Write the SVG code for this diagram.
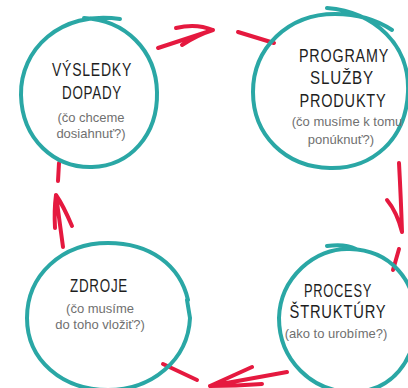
<svg xmlns="http://www.w3.org/2000/svg" width="408" height="388" viewBox="0 0 408 388">
<style>
.ring{fill:none;stroke:#2aa7a5;stroke-width:4;stroke-linecap:round}
.arr{fill:none;stroke:#e5193f;stroke-width:4;stroke-linecap:round;stroke-linejoin:round}
.t{font-family:"Liberation Sans",Arial,sans-serif;font-size:18px;fill:#1e1e1e;text-anchor:middle;letter-spacing:1px}
.s{font-family:"Liberation Sans",Arial,sans-serif;font-size:13px;fill:#707070;text-anchor:middle}
</style>
<rect width="408" height="388" fill="#fff"/>
<g id="connectors">
<path class="arr" d="M158,48 L213,30 M176,28 Q196,23 213,30 M182,45 Q197,35 213,30"/>
<path class="arr" d="M238,32 L274,43"/>
<path class="arr" d="M399,163 Q401,200 402,232 M387,200 Q397,212 402,232"/>
<path class="arr" d="M399,249 L393,270"/>
<path class="arr" d="M287,372 L210,386 M252,367 Q230,377 210,386 M262,384 Q236,386 210,386"/>
<path class="arr" d="M197,380 L163,364"/>
<path class="arr" d="M63,247 L56,195 M55,228 Q54,210 56,195 M72,226 Q63,205 56,195"/>
<path class="arr" d="M59,163 L58,181"/>
</g>
<g id="vysledky">
<path class="ring" d="M120,19 C60,10 20,50 21,95 C22,140 55,168 92,167 C130,166 158,135 157,92 C156,50 125,20 84,18"/>
<text class="t" x="92" y="76" textLength="80" lengthAdjust="spacingAndGlyphs">VÝSLEDKY</text>
<text class="t" x="92" y="99" textLength="60" lengthAdjust="spacingAndGlyphs">DOPADY</text>
<text class="s" x="91" y="122">(čo chceme</text>
<text class="s" x="91" y="138">dosiahnuť?)</text>
</g>
<g id="programy">
<path class="ring" d="M327,8 C375,12 410,45 408,92 C406,140 372,169 330,168 C285,167 253,135 253,92 C253,48 288,14 335,14 C360,14 380,22 392,30"/>
<text class="t" x="344" y="62" textLength="90" lengthAdjust="spacingAndGlyphs">PROGRAMY</text>
<text class="t" x="342" y="84" textLength="64" lengthAdjust="spacingAndGlyphs">SLUŽBY</text>
<text class="t" x="343" y="107" textLength="87" lengthAdjust="spacingAndGlyphs">PRODUKTY</text>
<text class="s" x="347" y="126">(čo musíme k tomu</text>
<text class="s" x="341" y="144">ponúknuť?)</text>
</g>
<g id="zdroje">
<path class="ring" d="M188,300 C180,265 150,243 108,243 C62,243 27,275 27,318 C27,360 62,390 108,390 C152,390 188,360 190,318 L187,300"/>
<text class="t" x="99" y="292" textLength="58" lengthAdjust="spacingAndGlyphs">ZDROJE</text>
<text class="s" x="100" y="313">(čo musíme</text>
<text class="s" x="100" y="329">do toho vložiť?)</text>
</g>
<g id="procesy">
<path class="ring" d="M327,246 C340,244 350,246 356,249 M350,249 C315,247 280,278 279,318 C279,360 312,392 352,392 C392,392 416,360 416,320 C416,280 390,250 350,249"/>
<text class="t" x="338" y="297" textLength="68" lengthAdjust="spacingAndGlyphs">PROCESY</text>
<text class="t" x="338" y="318" textLength="97" lengthAdjust="spacingAndGlyphs">ŠTRUKTÚRY</text>
<text class="s" x="336" y="338">(ako to urobíme?)</text>
</g>
</svg>
